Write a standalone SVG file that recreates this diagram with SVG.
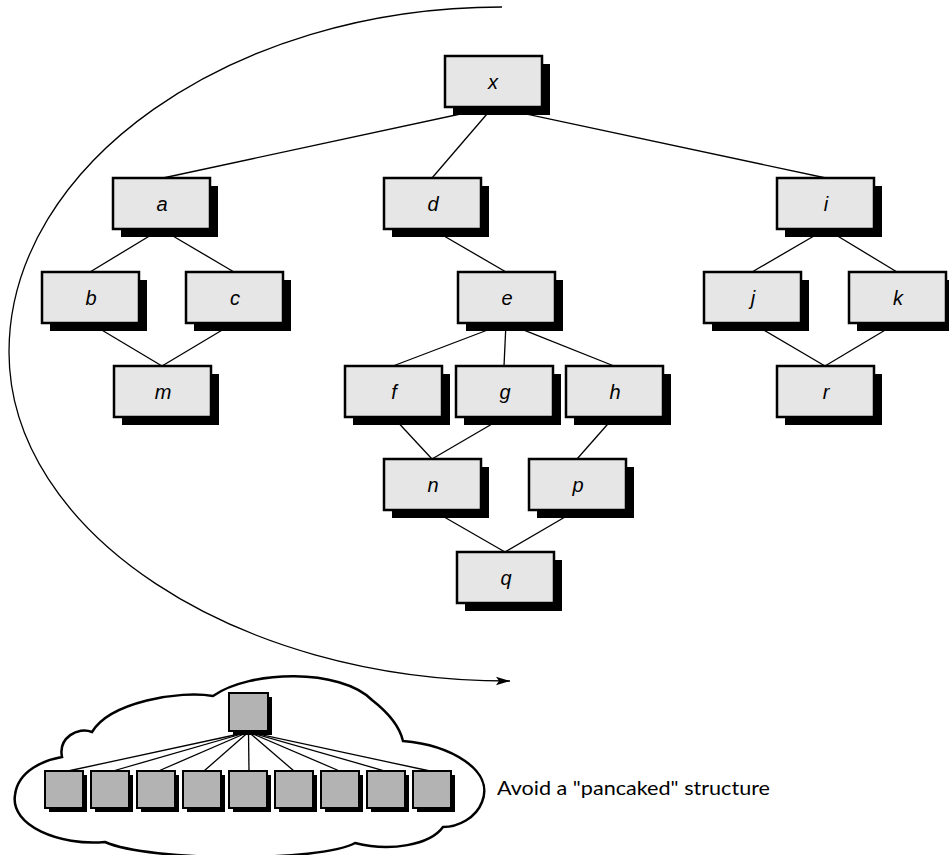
<svg xmlns="http://www.w3.org/2000/svg" width="949" height="855" viewBox="0 0 949 855">
<style>
.sh{fill:#000}
.bx{fill:#e6e6e6;stroke:#000;stroke-width:2.5}
.lb{font-family:"Liberation Sans",Arial,sans-serif;font-style:italic;font-size:20px;text-anchor:middle;fill:#000}
.ed{stroke:#000;stroke-width:1.3;fill:none}
.sq{fill:#b3b3b3;stroke:#000;stroke-width:2}
</style>
<defs>
<marker id="ah" markerWidth="15" markerHeight="10" refX="14" refY="5" orient="auto" markerUnits="userSpaceOnUse">
<path d="M0,0.8 L14,5 L0,9.2 L3,5 Z" fill="#000"/>
</marker>
</defs>
<rect width="949" height="855" fill="#fff"/>
<path id="arc" d="M502,7 C230,7 9,165 9,352 C9,531 233,681 510,681" fill="none" stroke="#000" stroke-width="1.3" marker-end="url(#ah)"/>
<g id="connectors" class="ed">
<line x1="493" y1="107" x2="163" y2="178"/>
<line x1="493" y1="107" x2="432" y2="178"/>
<line x1="493" y1="107" x2="826" y2="178"/>
<line x1="161" y1="229" x2="90" y2="272"/>
<line x1="161" y1="229" x2="234" y2="272"/>
<line x1="90" y1="323" x2="162" y2="366"/>
<line x1="234" y1="323" x2="162" y2="366"/>
<line x1="432" y1="229" x2="506" y2="272"/>
<line x1="506" y1="323" x2="393" y2="366"/>
<line x1="506" y1="323" x2="504" y2="366"/>
<line x1="506" y1="323" x2="614" y2="366"/>
<line x1="393" y1="417" x2="432" y2="459"/>
<line x1="504" y1="417" x2="432" y2="459"/>
<line x1="614" y1="417" x2="577" y2="459"/>
<line x1="432" y1="510" x2="505" y2="552"/>
<line x1="577" y1="510" x2="505" y2="552"/>
<line x1="826" y1="229" x2="752" y2="272"/>
<line x1="826" y1="229" x2="897" y2="272"/>
<line x1="752" y1="323" x2="825" y2="366"/>
<line x1="897" y1="323" x2="825" y2="366"/>
</g>
<g id="node-x"><rect class="sh" x="453" y="64" width="97" height="51"/><rect class="bx" x="445" y="56" width="97" height="51"/><text class="lb" x="493" y="89">x</text></g>
<g id="node-a"><rect class="sh" x="121" y="186" width="97" height="51"/><rect class="bx" x="113" y="178" width="97" height="51"/><text class="lb" x="162" y="211">a</text></g>
<g id="node-d"><rect class="sh" x="392" y="186" width="97" height="51"/><rect class="bx" x="384" y="178" width="97" height="51"/><text class="lb" x="433" y="211">d</text></g>
<g id="node-i"><rect class="sh" x="785" y="186" width="97" height="51"/><rect class="bx" x="777" y="178" width="97" height="51"/><text class="lb" x="826" y="211">i</text></g>
<g id="node-b"><rect class="sh" x="50" y="280" width="97" height="51"/><rect class="bx" x="42" y="272" width="97" height="51"/><text class="lb" x="91" y="305">b</text></g>
<g id="node-c"><rect class="sh" x="194" y="280" width="97" height="51"/><rect class="bx" x="186" y="272" width="97" height="51"/><text class="lb" x="235" y="305">c</text></g>
<g id="node-e"><rect class="sh" x="466" y="280" width="97" height="51"/><rect class="bx" x="458" y="272" width="97" height="51"/><text class="lb" x="507" y="305">e</text></g>
<g id="node-j"><rect class="sh" x="712" y="280" width="97" height="51"/><rect class="bx" x="704" y="272" width="97" height="51"/><text class="lb" x="753" y="305">j</text></g>
<g id="node-k"><rect class="sh" x="857" y="280" width="97" height="51"/><rect class="bx" x="849" y="272" width="97" height="51"/><text class="lb" x="898" y="305">k</text></g>
<g id="node-m"><rect class="sh" x="122" y="374" width="97" height="51"/><rect class="bx" x="114" y="366" width="97" height="51"/><text class="lb" x="163" y="399">m</text></g>
<g id="node-f"><rect class="sh" x="353" y="374" width="97" height="51"/><rect class="bx" x="345" y="366" width="97" height="51"/><text class="lb" x="394" y="399">f</text></g>
<g id="node-g"><rect class="sh" x="464" y="374" width="97" height="51"/><rect class="bx" x="456" y="366" width="97" height="51"/><text class="lb" x="505" y="399">g</text></g>
<g id="node-h"><rect class="sh" x="574" y="374" width="97" height="51"/><rect class="bx" x="566" y="366" width="97" height="51"/><text class="lb" x="615" y="399">h</text></g>
<g id="node-r"><rect class="sh" x="785" y="374" width="97" height="51"/><rect class="bx" x="777" y="366" width="97" height="51"/><text class="lb" x="826" y="399">r</text></g>
<g id="node-n"><rect class="sh" x="392" y="467" width="97" height="51"/><rect class="bx" x="384" y="459" width="97" height="51"/><text class="lb" x="433" y="492">n</text></g>
<g id="node-p"><rect class="sh" x="537" y="467" width="97" height="51"/><rect class="bx" x="529" y="459" width="97" height="51"/><text class="lb" x="578" y="492">p</text></g>
<g id="node-q"><rect class="sh" x="465" y="560" width="97" height="51"/><rect class="bx" x="457" y="552" width="97" height="51"/><text class="lb" x="506" y="585">q</text></g>
<g id="cloud">
<path d="M62,757 C58,738 78,726 92,732 C110,702 180,690 213,696 C250,670 340,668 372,700 C390,714 400,728 403,741 C450,745 495,770 482,802 C476,818 458,827 443,827 C430,845 390,852 355,843 C320,862 150,862 105,842 C60,846 10,826 15,795 C18,770 45,760 62,757 Z" fill="#fff" stroke="#000" stroke-width="2.5"/>
<g class="ed">
<line x1="248.5" y1="732" x2="68" y2="771"/>
<line x1="248.5" y1="732" x2="113" y2="771"/>
<line x1="248.5" y1="732" x2="158.5" y2="771"/>
<line x1="248.5" y1="732" x2="204" y2="771"/>
<line x1="248.5" y1="732" x2="249" y2="771"/>
<line x1="248.5" y1="732" x2="294" y2="771"/>
<line x1="248.5" y1="732" x2="339.5" y2="771"/>
<line x1="248.5" y1="732" x2="385" y2="771"/>
<line x1="248.5" y1="732" x2="430" y2="771"/>
</g>
<rect class="sh" x="233" y="697" width="39" height="38"/><rect class="sq" x="229" y="693" width="39" height="38"/>
<rect class="sh" x="49" y="775" width="38" height="37"/><rect class="sq" x="45" y="771" width="38" height="37"/>
<rect class="sh" x="95" y="775" width="38" height="37"/><rect class="sq" x="91" y="771" width="38" height="37"/>
<rect class="sh" x="141" y="775" width="38" height="37"/><rect class="sq" x="137" y="771" width="38" height="37"/>
<rect class="sh" x="187" y="775" width="38" height="37"/><rect class="sq" x="183" y="771" width="38" height="37"/>
<rect class="sh" x="233" y="775" width="38" height="37"/><rect class="sq" x="229" y="771" width="38" height="37"/>
<rect class="sh" x="279" y="775" width="38" height="37"/><rect class="sq" x="275" y="771" width="38" height="37"/>
<rect class="sh" x="325" y="775" width="38" height="37"/><rect class="sq" x="321" y="771" width="38" height="37"/>
<rect class="sh" x="371" y="775" width="38" height="37"/><rect class="sq" x="367" y="771" width="38" height="37"/>
<rect class="sh" x="417" y="775" width="38" height="37"/><rect class="sq" x="413" y="771" width="38" height="37"/>
</g>
<text id="caption" x="497" y="795" font-family="Lato,'Liberation Sans',Arial,sans-serif" font-size="20" textLength="273" lengthAdjust="spacingAndGlyphs" fill="#000">Avoid a "pancaked" structure</text>
</svg>
